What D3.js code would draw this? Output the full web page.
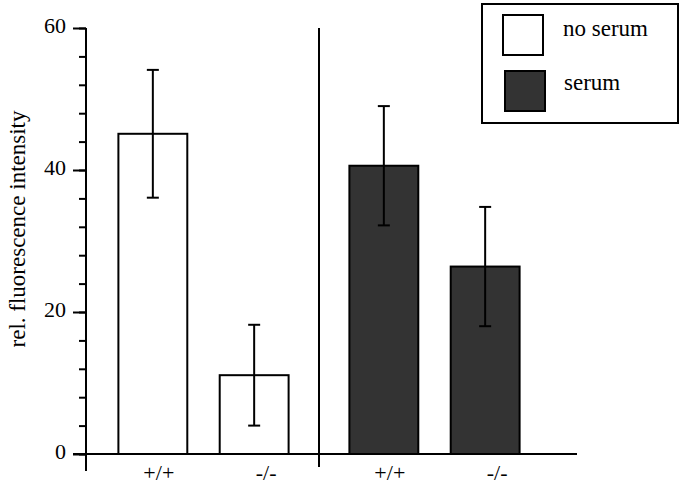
<!DOCTYPE html>
<html>
<head>
<meta charset="utf-8">
<script src="https://cdn.jsdelivr.net/npm/d3@7"></script>
<style>
  body { margin: 0; background: #fff; }
</style>
</head>
<body>
<div id="chart"></div>
<script>
// data
const groups = ["no serum", "serum"];
const genotypes = ["+/+", "-/-"];
const noSerumValues = [45.1, 11.1];
const noSerumErrors = [9.0, 7.1];
const serumValues = [40.6, 26.4];
const serumErrors = [8.4, 8.4];
const yTicks = [0, 20, 40, 60];

const fills = { "no serum": "#ffffff", "serum": "#333333" };
const serif = "'Liberation Serif'";

const W = 683, H = 484;
const svg = d3.select("#chart").append("svg")
  .attr("width", W).attr("height", H);

// scales
const y = d3.scaleLinear().domain([0, 60]).range([454, 28]);
const xGroup = d3.scaleBand().domain(groups).range([88, 550]).padding(0);
const xInner = d3.scaleBand().domain(genotypes)
  .range([0, xGroup.bandwidth()])
  .paddingInner(0.32).paddingOuter(0.3);

const rows = [];
groups.forEach((g, gi) => {
  const vals = gi === 0 ? noSerumValues : serumValues;
  const errs = gi === 0 ? noSerumErrors : serumErrors;
  genotypes.forEach((t, ti) => {
    rows.push({ group: g, geno: t, value: vals[ti], err: errs[ti] });
  });
});

const axisAt = 86;

// bars
svg.append("g")
  .selectAll("rect")
  .data(rows)
  .enter()
  .append("rect")
  .attr("x", d => xGroup(d.group) + xInner(d.geno))
  .attr("y", d => y(d.value))
  .attr("width", xInner.bandwidth())
  .attr("height", d => y(0) - y(d.value))
  .attr("fill", d => fills[d.group])
  .attr("stroke", "#000")
  .attr("stroke-width", 2);

// error bars
const err = svg.append("g").attr("stroke", "#000").attr("stroke-width", 2);
rows.forEach(d => {
  const cx = xGroup(d.group) + xInner(d.geno) + xInner.bandwidth() / 2;
  err.append("line")
    .attr("x1", cx).attr("x2", cx)
    .attr("y1", y(d.value + d.err)).attr("y2", y(d.value - d.err));
  [d.value + d.err, d.value - d.err].forEach(v => {
    err.append("line")
      .attr("x1", cx - 6).attr("x2", cx + 6)
      .attr("y1", y(v)).attr("y2", y(v));
  });
});

// y axis
const yAxis = svg.append("g").attr("transform", "translate(" + axisAt + ",0)");
yAxis.call(d3.axisLeft(y).tickValues(d3.range(0, 61, 4)).tickSize(7).tickFormat(""))
  .call(g => g.select(".domain").remove())
  .selectAll("line").attr("stroke-width", 2);
yAxis.append("g")
  .call(d3.axisLeft(y).tickValues(yTicks).tickSize(13).tickFormat(d3.format("d")))
  .call(g => g.select(".domain").remove())
  .call(g => g.selectAll("line").attr("stroke-width", 2))
  .call(g => g.selectAll("text")
    .attr("x", -20).attr("dy", "0.22em")
    .attr("fill", "#000")
    .style("font-family", serif)
    .style("font-size", "22px"));
yAxis.append("line")
  .attr("x1", 0).attr("x2", 0)
  .attr("y1", y(60)).attr("y2", 471)
  .attr("stroke", "#000").attr("stroke-width", 2);

// x axis line
svg.append("line")
  .attr("x1", 73).attr("x2", 577)
  .attr("y1", y(0)).attr("y2", y(0))
  .attr("stroke", "#000").attr("stroke-width", 2);

// group separator
const sepX = (xGroup(groups[0]) + xInner(genotypes[1]) + xInner.bandwidth()
  + xGroup(groups[1]) + xInner(genotypes[0])) / 2;
svg.append("line")
  .attr("x1", sepX).attr("x2", sepX)
  .attr("y1", y(60)).attr("y2", 467)
  .attr("stroke", "#000").attr("stroke-width", 2);

// genotype labels
groups.forEach(g => {
  svg.append("g")
    .attr("transform", "translate(" + xGroup(g) + "," + y(0) + ")")
    .call(d3.axisBottom(xInner).tickSize(0))
    .call(s => s.select(".domain").remove())
    .selectAll("text")
    .attr("y", 26).attr("dy", 0)
    .attr("dx", d => (d === "-/-" ? 12 : 6))
    .attr("fill", "#000")
    .style("font-family", serif)
    .style("font-size", "22px");
});

// y axis title
svg.append("text")
  .attr("transform", "translate(25,229) rotate(-90)")
  .attr("text-anchor", "middle")
  .style("font-family", serif)
  .style("font-size", "23px")
  .text("rel. fluorescence intensity");

// legend
const legend = svg.append("g");
legend.append("rect")
  .attr("x", 482).attr("y", 4).attr("width", 196).attr("height", 119)
  .attr("fill", "#fff").attr("stroke", "#000").attr("stroke-width", 2);
const legendItems = [
  { label: "no serum", x: 503, y: 15, tx: 563, ty: 36 },
  { label: "serum", x: 505, y: 71, tx: 564, ty: 90 }
];
legendItems.forEach(d => {
  legend.append("rect")
    .attr("x", d.x).attr("y", d.y).attr("width", 40).attr("height", 40)
    .attr("fill", fills[d.label]).attr("stroke", "#000").attr("stroke-width", 2);
  legend.append("text")
    .attr("x", d.tx).attr("y", d.ty)
    .style("font-family", serif)
    .style("font-size", "23px")
    .text(d.label);
});
</script>
</body>
</html>
